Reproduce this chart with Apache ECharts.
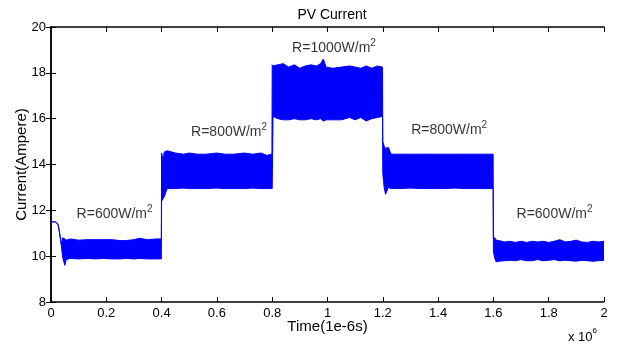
<!DOCTYPE html>
<html><head><meta charset="utf-8">
<script src="https://cdn.jsdelivr.net/npm/echarts@6/dist/echarts.min.js"></script>
<style>html,body{margin:0;padding:0;background:#fff}#c{width:626px;height:351px}</style>
</head><body><div id="c"></div>
<script>
// Time axis in units of 10^6 (x 1e-6 s)
const time = [0, 0.015, 0.025, 0.03, 0.038, 0.042, 0.05, 0.055, 0.07, 0.1, 0.13, 0.16, 0.19, 0.22, 0.25, 0.27, 0.3, 0.32, 0.35, 0.38, 0.399,
  0.4, 0.405, 0.41, 0.42, 0.45, 0.48, 0.5, 0.53, 0.56, 0.6, 0.63, 0.66, 0.7, 0.73, 0.76, 0.78, 0.799,
  0.8, 0.803, 0.82, 0.84, 0.86, 0.88, 0.9, 0.92, 0.94, 0.96, 0.975, 0.985, 0.995, 1.02, 1.05, 1.08, 1.1, 1.12, 1.14, 1.16, 1.18, 1.199,
  1.2, 1.205, 1.21, 1.22, 1.23, 1.26, 1.3, 1.34, 1.38, 1.42, 1.46, 1.5, 1.54, 1.58, 1.599,
  1.6, 1.605, 1.61, 1.62, 1.64, 1.66, 1.68, 1.7, 1.72, 1.74, 1.76, 1.78, 1.8, 1.82, 1.84, 1.86, 1.88, 1.9, 1.92, 1.94, 1.96, 1.98, 2.0];
// Upper envelope of the PV current band (A)
const upper = [11.5, 11.5, 11.4, 11.1, 10.5, 10.8, 10.75, 10.7, 10.75, 10.7, 10.72, 10.72, 10.72, 10.72, 10.68, 10.68, 10.72, 10.78, 10.72, 10.75, 10.75,
  14.5, 14.2, 14.55, 14.6, 14.5, 14.45, 14.5, 14.45, 14.45, 14.5, 14.45, 14.45, 14.5, 14.45, 14.5, 14.4, 14.45,
  18.35, 18.3, 18.35, 18.4, 18.25, 18.35, 18.2, 18.3, 18.35, 18.3, 18.4, 18.6, 18.25, 18.2, 18.25, 18.3, 18.25, 18.2, 18.3, 18.2, 18.3, 18.25,
  15.0, 14.8, 14.7, 14.75, 14.45, 14.45, 14.45, 14.45, 14.45, 14.45, 14.45, 14.45, 14.45, 14.45, 14.45,
  10.8, 10.8, 10.7, 10.68, 10.62, 10.65, 10.6, 10.65, 10.6, 10.65, 10.62, 10.65, 10.6, 10.65, 10.72, 10.62, 10.65, 10.7, 10.62, 10.6, 10.65, 10.62, 10.65];
// Lower envelope of the PV current band (A)
const lower = [11.5, 11.5, 11.4, 11.1, 10.4, 9.95, 9.6, 9.85, 9.9, 9.88, 9.9, 9.88, 9.9, 9.88, 9.88, 9.9, 9.88, 9.9, 9.88, 9.88, 9.88,
  12.4, 12.5, 12.6, 12.95, 12.95, 12.97, 12.95, 12.95, 12.95, 12.97, 12.95, 12.95, 12.95, 12.97, 12.95, 12.95, 12.95,
  12.95, 16.1, 16.0, 15.95, 15.95, 16.0, 15.95, 15.95, 16.0, 15.95, 16.0, 15.9, 15.95, 15.95, 15.95, 16.05, 15.95, 16.05, 15.9, 16.0, 16.05, 16.1,
  13.6, 13.0, 12.7, 13.0, 12.95, 12.95, 12.97, 12.95, 12.95, 12.95, 12.97, 12.95, 12.95, 12.95, 12.95,
  10.2, 9.9, 9.75, 9.78, 9.8, 9.82, 9.8, 9.85, 9.8, 9.8, 9.85, 9.8, 9.82, 9.85, 9.8, 9.82, 9.8, 9.78, 9.82, 9.8, 9.78, 9.8, 9.82];
// Irradiance annotations
const noteText = ['R=600W/m', 'R=800W/m', 'R=1000W/m', 'R=800W/m', 'R=600W/m'];
const noteX = [0.23, 0.644, 1.0235, 1.44, 1.821];
const noteY = [11.89, 15.47, 19.14, 15.55, 11.89];

const FONT = '"Liberation Sans", Arial, Helvetica, sans-serif';
const chart = echarts.init(document.getElementById('c'), null, {renderer: 'canvas'});

const fmtX = v => String(Math.round(v * 10) / 10);

chart.setOption({
  animation: false,
  backgroundColor: '#fff',
  title: {text: 'PV Current', left: 327, textAlign: 'center', top: 3, textStyle: {fontFamily: FONT, fontSize: 14, fontWeight: 'normal', color: '#000'}},
  grid: {left: 51, right: 22, top: 27, bottom: 49},
  xAxis: [
    {type: 'value', min: 0, max: 2, interval: 0.2, position: 'bottom',
     name: 'Time(1e-6s)', nameLocation: 'middle', nameGap: 17, nameMoveOverlap: false,
     nameTextStyle: {fontFamily: FONT, fontSize: 15, color: '#000', verticalAlign: 'top'},
     axisLine: {lineStyle: {color: '#000', width: 1.5}},
     axisTick: {inside: true, length: 5, lineStyle: {color: '#000'}},
     axisLabel: {formatter: fmtX, fontFamily: FONT, fontSize: 13, color: '#000', margin: 5},
     splitLine: {show: false}},
    {type: 'value', min: 0, max: 2, interval: 0.2, position: 'top',
     axisLine: {lineStyle: {color: '#000', width: 1.5}},
     axisTick: {inside: true, length: 5, lineStyle: {color: '#000'}},
     axisLabel: {show: false}, splitLine: {show: false}}
  ],
  yAxis: [
    {type: 'value', min: 8, max: 20, interval: 2, position: 'left',
     name: 'Current(Ampere)', nameLocation: 'middle', nameGap: 22, nameRotate: 90, nameMoveOverlap: false,
     nameTextStyle: {fontFamily: FONT, fontSize: 15, color: '#000'},
     axisLine: {lineStyle: {color: '#000', width: 1.5}},
     axisTick: {inside: true, length: 5, lineStyle: {color: '#000'}},
     axisLabel: {fontFamily: FONT, fontSize: 13, color: '#000', margin: 5},
     splitLine: {show: false}},
    {type: 'value', min: 8, max: 20, interval: 2, position: 'right',
     axisLine: {lineStyle: {color: '#000', width: 1.5}},
     axisTick: {inside: true, length: 5, lineStyle: {color: '#000'}},
     axisLabel: {show: false}, splitLine: {show: false}}
  ],
  series: [
    {type: 'custom', xAxisIndex: 0, yAxisIndex: 0, data: [[0, 0]], clip: true,
     renderItem: function (params, api) {
       const pts = [];
       for (let i = 0; i < time.length; i++) pts.push(api.coord([time[i], upper[i]]));
       for (let i = time.length - 1; i >= 0; i--) pts.push(api.coord([time[i], lower[i]]));
       return {type: 'polygon', shape: {points: pts}, style: {fill: '#0000ff', stroke: '#0000ff', lineWidth: 1}};
     }},
    {type: 'scatter', xAxisIndex: 0, yAxisIndex: 0, symbolSize: 0,
     data: noteText.map((t, i) => ({value: [noteX[i], noteY[i]], name: t})),
     label: {show: true, position: 'inside',
       formatter: p => '{a|' + p.name + '}{s|2}',
       rich: {
         a: {fontFamily: FONT, fontSize: 14, color: '#000', verticalAlign: 'bottom'},
         s: {fontFamily: FONT, fontSize: 10, color: '#000', verticalAlign: 'bottom', padding: [0, 0, 7, 0]}
       }}}
  ],
  graphic: [
    {type: 'text', left: 568, top: 327,
     style: {text: '{a|x 10}{s|6}', rich: {
       a: {fontFamily: FONT, fontSize: 13, fill: '#000', verticalAlign: 'bottom'},
       s: {fontFamily: FONT, fontSize: 8, fill: '#000', verticalAlign: 'bottom', padding: [0, 0, 9, 0]}}}}
  ]
});
</script></body></html>
